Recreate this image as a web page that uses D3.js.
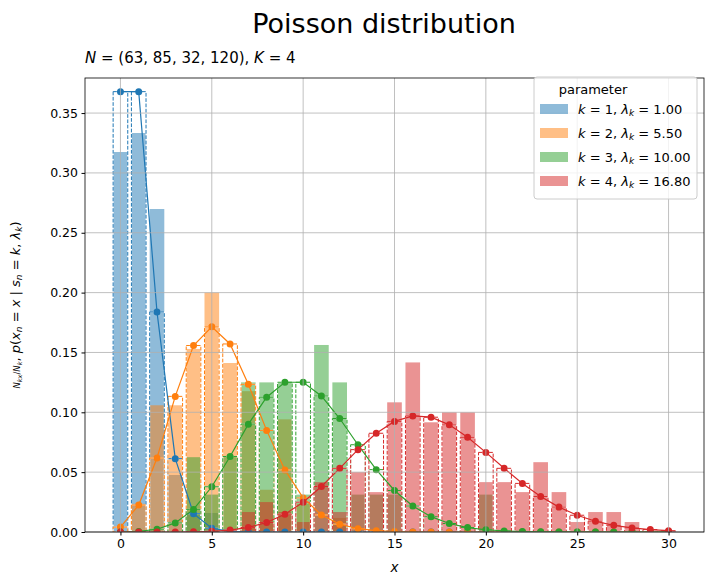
<!DOCTYPE html>
<html><head><meta charset="utf-8">
<script src="https://cdn.jsdelivr.net/npm/d3@7"></script>
<style>body{margin:0;background:#fff}text{font-family:"DejaVu Sans",sans-serif}</style>
</head><body><svg id="c" width="713" height="585"></svg>
<script>
var xs = d3.range(0, 31);
var counts = [63, 85, 32, 120];
var lambdas = ["1.00", "5.50", "10.00", "16.80"];
var colors = ["#1f77b4", "#ff7f0e", "#2ca02c", "#d62728"];
// empirical counts per x (0..30)
var hist1 = [20,21,17,3,1,1,0,0,0,0,0,0,0,0,0,0,0,0,0,0,0,0,0,0,0,0,0,0,0,0,0];
var hist2 = [0,2,9,9,13,17,12,10,3,8,2,0,1,0,0,0,0,0,0,0,0,0,0,0,0,0,0,0,0,0,0];
var hist3 = [0,0,0,0,2,1,2,4,4,4,1,5,4,1,1,1,0,0,0,0,1,0,0,0,0,0,0,0,0,0,0];
var hist4 = [0,0,0,0,0,0,0,2,3,2,1,5,2,6,4,13,17,11,12,12,5,5,4,7,4,1,2,2,1,0,0];
// poisson pmf values
var pmf1 = [.3679,.3679,.1839,.0613,.0153,.0031,.0005,.0001,0,0,0,0,0,0,0,0,0,0,0,0,0,0,0,0,0,0,0,0,0,0,0];
var pmf2 = [.0041,.0225,.0618,.1133,.1558,.1714,.1571,.1234,.0849,.0519,.0285,.0143,.0065,.0028,.0011,.0004,.0001,0,0,0,0,0,0,0,0,0,0,0,0,0,0];
var pmf3 = [0,.0005,.0023,.0076,.0189,.0378,.0631,.0901,.1126,.1251,.1251,.1137,.0948,.0729,.0521,.0347,.0217,.0128,.0071,.0037,.0019,.0009,.0004,.0002,.0001,0,0,0,0,0,0];
var pmf4 = [0,0,0,0,.0002,.0006,.0016,.0038,.0079,.0148,.0249,.0380,.0532,.0688,.0825,.0924,.0970,.0959,.0895,.0791,.0665,.0532,.0406,.0297,.0208,.0140,.0090,.0056,.0034,.0020,.0011];
var hists = [hist1, hist2, hist3, hist4];
var pmfs = [pmf1, pmf2, pmf3, pmf4];
var xTicks = [0, 5, 10, 15, 20, 25, 30];
var yTicks = [0, 0.05, 0.10, 0.15, 0.20, 0.25, 0.30, 0.35];

var svg = d3.select("#c"),
  L = 85, R = 704, T = 78, B = 532;
var x = d3.scaleLinear().domain([-1.94, 31.94]).range([L, R]);
var y = d3.scaleLinear().domain([0, 0.3793]).range([B, T]);

svg.append("clipPath").attr("id", "cp").append("rect")
  .attr("x", L).attr("y", T).attr("width", R - L).attr("height", B - T);

var plot = svg.append("g").attr("clip-path", "url(#cp)");
var w = x(0.8) - x(0);

hists.forEach(function (h, i) {
  plot.append("g").selectAll("rect").data(xs).enter().append("rect")
    .attr("x", d => x(d - 0.4)).attr("width", w)
    .attr("y", d => y(h[d] / counts[i])).attr("height", d => B - y(h[d] / counts[i]))
    .attr("fill", colors[i]).attr("fill-opacity", 0.5);
});

// grid above bars
var g = svg.append("g");
g.selectAll(".gx").data(xTicks).enter().append("line")
  .attr("x1", d => x(d)).attr("x2", d => x(d)).attr("y1", T).attr("y2", B)
  .attr("stroke", "#b0b0b0").attr("stroke-width", 0.8);
g.selectAll(".gy").data(yTicks).enter().append("line")
  .attr("y1", d => y(d)).attr("y2", d => y(d)).attr("x1", L).attr("x2", R)
  .attr("stroke", "#b0b0b0").attr("stroke-width", 0.8);

pmfs.forEach(function (p, i) {
  var gg = plot.append("g");
  ["#fff", colors[i]].forEach(function (c, j) {
    gg.selectAll(".r" + j).data(xs.filter(d => p[d] > 0)).enter().append("rect")
      .attr("x", d => x(d - 0.4)).attr("width", w)
      .attr("y", d => y(p[d])).attr("height", d => B - y(p[d]))
      .attr("fill", "none").attr("stroke", c).attr("stroke-width", 1)
      .attr("stroke-dasharray", j ? "3.7,1.6" : null);
  });
});

pmfs.forEach(function (p, i) {
  plot.append("path").datum(xs)
    .attr("d", d3.line().x(d => x(d)).y(d => y(p[d])))
    .attr("fill", "none").attr("stroke", colors[i]).attr("stroke-width", 1.2);
  plot.append("g").selectAll("circle").data(xs).enter().append("circle")
    .attr("cx", d => x(d)).attr("cy", d => y(p[d])).attr("r", 3.5)
    .attr("fill", colors[i]);
});

// frame
svg.append("rect").attr("x", L).attr("y", T).attr("width", R - L).attr("height", B - T)
  .attr("fill", "none").attr("stroke", "#000").attr("stroke-width", 0.8);

var xa = svg.append("g").attr("transform", "translate(0," + B + ")")
  .call(d3.axisBottom(x).tickValues(xTicks).tickSize(3.5).tickPadding(3.5));
var ya = svg.append("g").attr("transform", "translate(" + L + ",0)")
  .call(d3.axisLeft(y).tickValues(yTicks).tickFormat(d3.format(".2f")).tickSize(3.5).tickPadding(3.5));
[xa, ya].forEach(a => {
  a.select(".domain").remove();
  a.selectAll("text").attr("font-size", 12.5).attr("fill", "#000").style("font-family", "DejaVu Sans");
});

svg.append("text").attr("x", 384).attr("y", 33).attr("text-anchor", "middle")
  .attr("font-size", 27).text("Poisson distribution");

var sub = svg.append("text").attr("x", L).attr("y", 63).attr("font-size", 15);
sub.append("tspan").attr("font-style", "italic").text("N");
sub.append("tspan").text(" = (63, 85, 32, 120), ");
sub.append("tspan").attr("font-style", "italic").text("K");
sub.append("tspan").text(" = 4");

svg.append("text").attr("x", (L + R) / 2).attr("y", 572).attr("text-anchor", "middle")
  .attr("font-size", 13.5).attr("font-style", "italic").text("x");

var yl = svg.append("text").attr("transform", "translate(20," + ((T + B) / 2) + ") rotate(-90)")
  .attr("text-anchor", "middle").attr("font-size", 13);
yl.append("tspan").attr("font-size", 8.5).attr("font-style", "italic").text("N");
yl.append("tspan").attr("font-size", 6.5).attr("font-style", "italic").attr("dy", 2).text("kx");
yl.append("tspan").attr("font-size", 8.5).attr("dy", -2).text("/");
yl.append("tspan").attr("font-size", 8.5).attr("font-style", "italic").text("N");
yl.append("tspan").attr("font-size", 6.5).attr("font-style", "italic").attr("dy", 2).text("k");
yl.append("tspan").attr("dy", -2).text(", ");
yl.append("tspan").attr("font-style", "italic").text("p");
yl.append("tspan").text("(");
yl.append("tspan").attr("font-style", "italic").text("x");
yl.append("tspan").attr("font-size", 9).attr("font-style", "italic").attr("dy", 2).text("n");
yl.append("tspan").attr("dy", -2).text(" = ");
yl.append("tspan").attr("font-style", "italic").text("x");
yl.append("tspan").text(" | ");
yl.append("tspan").attr("font-style", "italic").text("s");
yl.append("tspan").attr("font-size", 9).attr("font-style", "italic").attr("dy", 2).text("n");
yl.append("tspan").attr("dy", -2).text(" = ");
yl.append("tspan").attr("font-style", "italic").text("k");
yl.append("tspan").text(", ");
yl.append("tspan").attr("font-style", "italic").text("λ");
yl.append("tspan").attr("font-size", 9).attr("font-style", "italic").attr("dy", 2).text("k");
yl.append("tspan").attr("dy", -2).text(")");

// legend
var lg = svg.append("g").attr("transform", "translate(534,77)");
lg.append("rect").attr("width", 163).attr("height", 122).attr("rx", 3)
  .attr("fill", "#fff").attr("fill-opacity", 0.8).attr("stroke", "#ccc");
lg.append("text").attr("x", 59).attr("y", 17).attr("text-anchor", "middle").attr("font-size", 13).text("parameter");
colors.forEach(function (c, i) {
  var yy = 27 + i * 24;
  lg.append("rect").attr("x", 6).attr("y", yy).attr("width", 28).attr("height", 10)
    .attr("fill", c).attr("fill-opacity", 0.5);
  var t = lg.append("text").attr("x", 44).attr("y", yy + 10).attr("font-size", 13);
  t.append("tspan").attr("font-style", "italic").text("k");
  t.append("tspan").text(" = " + (i + 1) + ", ");
  t.append("tspan").attr("font-style", "italic").text("λ");
  t.append("tspan").attr("font-size", 9).attr("font-style", "italic").attr("dy", 2).text("k");
  t.append("tspan").attr("dy", -2).text(" = " + lambdas[i]);
});
</script></body></html>
